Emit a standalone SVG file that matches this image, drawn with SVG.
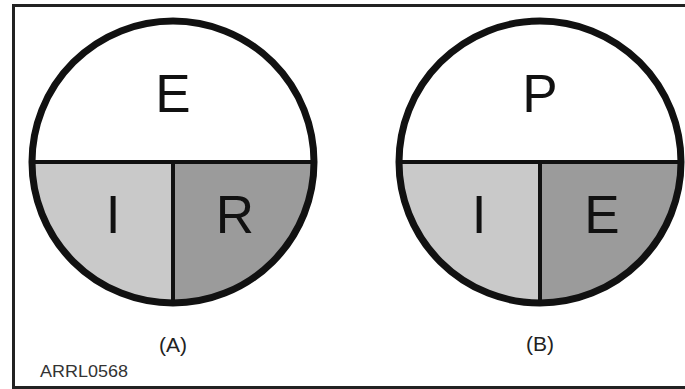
<svg xmlns="http://www.w3.org/2000/svg" width="685" height="389" viewBox="0 0 685 389">
  <style>
    .light { fill: #c9c9c9; }
    .dark { fill: #9b9b9b; }
    .ring { fill: none; stroke: #111; stroke-width: 7; }
    .div { stroke: #111; stroke-width: 4; }
    .big { font-family: "Liberation Sans", Arial, sans-serif; font-size: 53px; fill: #111; text-anchor: middle; }
    .cap { font-family: "Liberation Sans", Arial, sans-serif; font-size: 21px; fill: #222; text-anchor: middle; }
    .code { font-family: "Liberation Sans Narrow", "Liberation Sans", Arial, sans-serif; font-size: 16px; fill: #333; }
  </style>
  <rect x="0" y="0" width="685" height="389" fill="#fff"/>
  <path d="M13.5 389 V5.5 H685 M13.5 387.5 H685" fill="none" stroke="#222" stroke-width="3"/>

  <g id="nodeA">
    <circle cx="173" cy="162" r="141" fill="#fff"/>
    <path class="light" d="M32 162 L173 162 L173 303 A141 141 0 0 1 32 162 Z"/>
    <path class="dark" d="M173 162 L314 162 A141 141 0 0 1 173 303 Z"/>
    <line class="div" x1="32" y1="162" x2="314" y2="162"/>
    <line class="div" x1="173" y1="162" x2="173" y2="303"/>
    <circle class="ring" cx="173" cy="162" r="141"/>
    <text class="big" x="173" y="112">E</text>
    <text class="big" x="113" y="233">I</text>
    <text class="big" x="235" y="233">R</text>
    <text class="cap" x="173" y="352">(A)</text>
  </g>

  <g id="nodeB">
    <circle cx="540" cy="162" r="141" fill="#fff"/>
    <path class="light" d="M399 162 L540 162 L540 303 A141 141 0 0 1 399 162 Z"/>
    <path class="dark" d="M540 162 L681 162 A141 141 0 0 1 540 303 Z"/>
    <line class="div" x1="399" y1="162" x2="681" y2="162"/>
    <line class="div" x1="540" y1="162" x2="540" y2="303"/>
    <circle class="ring" cx="540" cy="162" r="141"/>
    <text class="big" x="540" y="112">P</text>
    <text class="big" x="479" y="233">I</text>
    <text class="big" x="602" y="233">E</text>
    <text class="cap" x="540" y="351">(B)</text>
  </g>

  <g id="connectors"/>

  <text class="code" x="40" y="377" textLength="88" lengthAdjust="spacingAndGlyphs">ARRL0568</text>
</svg>
